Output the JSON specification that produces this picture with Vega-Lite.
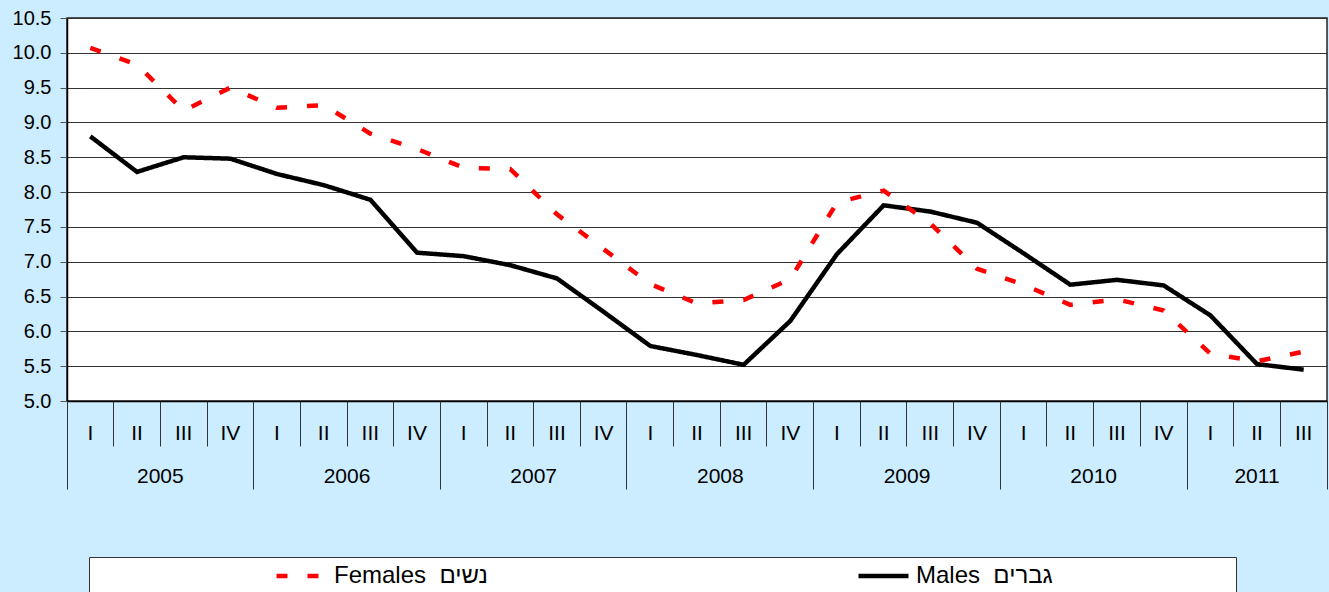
{
  "$schema": "https://vega.github.io/schema/vega-lite/v6.json",
  "width": 1260,
  "height": 383,
  "autosize": {"type": "none"},
  "padding": {"left": 67, "top": 18, "right": 2, "bottom": 191},
  "background": "#CCECFF",
  "config": {
    "view": {"fill": "white", "stroke": "#222", "strokeWidth": 1.5},
    "font": "Liberation Sans",
    "axis": {"labelFont": "Liberation Sans", "labelColor": "#000"}
  },
  "data": {
    "values": [
      {"period": "2005 I", "series": "Males", "value": 8.80},
      {"period": "2005 II", "series": "Males", "value": 8.29},
      {"period": "2005 III", "series": "Males", "value": 8.50},
      {"period": "2005 IV", "series": "Males", "value": 8.48},
      {"period": "2006 I", "series": "Males", "value": 8.26},
      {"period": "2006 II", "series": "Males", "value": 8.10},
      {"period": "2006 III", "series": "Males", "value": 7.89},
      {"period": "2006 IV", "series": "Males", "value": 7.13},
      {"period": "2007 I", "series": "Males", "value": 7.08},
      {"period": "2007 II", "series": "Males", "value": 6.95},
      {"period": "2007 III", "series": "Males", "value": 6.76},
      {"period": "2007 IV", "series": "Males", "value": 6.28},
      {"period": "2008 I", "series": "Males", "value": 5.79},
      {"period": "2008 II", "series": "Males", "value": 5.66},
      {"period": "2008 III", "series": "Males", "value": 5.52},
      {"period": "2008 IV", "series": "Males", "value": 6.15},
      {"period": "2009 I", "series": "Males", "value": 7.11},
      {"period": "2009 II", "series": "Males", "value": 7.81},
      {"period": "2009 III", "series": "Males", "value": 7.72},
      {"period": "2009 IV", "series": "Males", "value": 7.56},
      {"period": "2010 I", "series": "Males", "value": 7.12},
      {"period": "2010 II", "series": "Males", "value": 6.67},
      {"period": "2010 III", "series": "Males", "value": 6.74},
      {"period": "2010 IV", "series": "Males", "value": 6.66},
      {"period": "2011 I", "series": "Males", "value": 6.23},
      {"period": "2011 II", "series": "Males", "value": 5.53},
      {"period": "2011 III", "series": "Males", "value": 5.45},
      {"period": "2005 I", "series": "Females", "value": 10.07},
      {"period": "2005 II", "series": "Females", "value": 9.83},
      {"period": "2005 III", "series": "Females", "value": 9.17},
      {"period": "2005 IV", "series": "Females", "value": 9.50},
      {"period": "2006 I", "series": "Females", "value": 9.21},
      {"period": "2006 II", "series": "Females", "value": 9.25},
      {"period": "2006 III", "series": "Females", "value": 8.84},
      {"period": "2006 IV", "series": "Females", "value": 8.62},
      {"period": "2007 I", "series": "Females", "value": 8.35},
      {"period": "2007 II", "series": "Females", "value": 8.33},
      {"period": "2007 III", "series": "Females", "value": 7.68},
      {"period": "2007 IV", "series": "Females", "value": 7.18},
      {"period": "2008 I", "series": "Females", "value": 6.68},
      {"period": "2008 II", "series": "Females", "value": 6.40},
      {"period": "2008 III", "series": "Females", "value": 6.45},
      {"period": "2008 IV", "series": "Females", "value": 6.75},
      {"period": "2009 I", "series": "Females", "value": 7.85},
      {"period": "2009 II", "series": "Females", "value": 8.02},
      {"period": "2009 III", "series": "Females", "value": 7.55},
      {"period": "2009 IV", "series": "Females", "value": 6.90},
      {"period": "2010 I", "series": "Females", "value": 6.67},
      {"period": "2010 II", "series": "Females", "value": 6.38},
      {"period": "2010 III", "series": "Females", "value": 6.46},
      {"period": "2010 IV", "series": "Females", "value": 6.30},
      {"period": "2011 I", "series": "Females", "value": 5.68},
      {"period": "2011 II", "series": "Females", "value": 5.57},
      {"period": "2011 III", "series": "Females", "value": 5.71}
    ]
  },
  "resolve": {"axis": {"x": "independent"}},
  "layer": [
    {
      "transform": [{"filter": "datum.series == 'Males'"}],
      "mark": {"type": "line", "strokeWidth": 4.5},
      "encoding": {
        "x": {
          "field": "period", "type": "ordinal", "sort": null, "bandPosition": 0.5,
          "scale": {"type": "band", "paddingInner": 0, "paddingOuter": 0},
          "axis": {
            "orient": "bottom", "title": null, "bandPosition": 1, "tickExtra": true,
            "tickSize": 45, "tickColor": "#333", "tickWidth": 1,
            "domain": true, "domainColor": "#000", "domainWidth": 1.5,
            "labelAngle": 0, "labelFontSize": 21, "labelBaseline": "middle",
            "labelPadding": -13, "labelExpr": "split(datum.label, ' ')[1]"
          }
        },
        "y": {
          "field": "value", "type": "quantitative",
          "scale": {"domain": [5, 10.5], "nice": false, "zero": false},
          "axis": {
            "title": null, "values": [5, 5.5, 6, 6.5, 7, 7.5, 8, 8.5, 9, 9.5, 10, 10.5],
            "format": ".1f", "grid": true, "gridColor": "#333", "gridWidth": 1,
            "tickSize": 7, "tickColor": "#555", "domainColor": "#000", "domainWidth": 1.5,
            "labelFontSize": 20, "labelPadding": 9, "labelOverlap": false, "labelFlush": false
          }
        },
        "color": {
          "field": "series", "type": "nominal",
          "scale": {"domain": ["Females", "Males"], "range": ["#FF0000", "#000000"]},
          "legend": {
            "title": null, "orient": "none", "legendX": 22, "legendY": 539,
            "direction": "horizontal", "columns": 2, "columnPadding": 192,
            "fillColor": "white", "strokeColor": "#333", "padding": 9,
            "symbolType": "stroke", "symbolSize": 2500, "symbolStrokeWidth": 4.5,
            "symbolOffset": 176, "labelOffset": 5, "clipHeight": 20,
            "labelFontSize": 24, "labelFont": "Liberation Sans", "labelColor": "#000",
            "labelLimit": 600,
            "labelExpr": "datum.label == 'Females' ? 'Females\u00a0\u00a0נשים' : 'Males\u00a0\u00a0גברים\u00a0\u00a0\u00a0\u00a0\u00a0\u00a0\u00a0\u00a0\u00a0\u00a0\u00a0\u00a0\u00a0\u00a0\u00a0\u00a0\u00a0\u00a0\u00a0\u00a0\u00a0\u00a0\u00a0\u00a0\u00a0\u00a0\u200b'"
          }
        },
        "strokeDash": {
          "field": "series", "type": "nominal",
          "scale": {"domain": ["Females", "Males"], "range": [[11, 20], [1, 0]]},
          "legend": {
            "title": null, "orient": "none", "legendX": 22, "legendY": 539,
            "direction": "horizontal", "columns": 2, "columnPadding": 192,
            "fillColor": "white", "strokeColor": "#333", "padding": 9,
            "symbolType": "stroke", "symbolSize": 2500, "symbolStrokeWidth": 4.5,
            "symbolOffset": 176, "labelOffset": 5, "clipHeight": 20,
            "labelFontSize": 24, "labelFont": "Liberation Sans", "labelColor": "#000",
            "labelLimit": 600,
            "labelExpr": "datum.label == 'Females' ? 'Females\u00a0\u00a0נשים' : 'Males\u00a0\u00a0גברים\u00a0\u00a0\u00a0\u00a0\u00a0\u00a0\u00a0\u00a0\u00a0\u00a0\u00a0\u00a0\u00a0\u00a0\u00a0\u00a0\u00a0\u00a0\u00a0\u00a0\u00a0\u00a0\u00a0\u00a0\u00a0\u00a0\u200b'"
          }
        }
      }
    },
    {
      "transform": [{"filter": "datum.series == 'Females'"}],
      "mark": {"type": "line", "strokeWidth": 4.5},
      "encoding": {
        "x": {
          "field": "period", "type": "ordinal", "sort": null, "bandPosition": 0.5,
          "scale": {"type": "band", "paddingInner": 0, "paddingOuter": 0},
          "axis": {
            "orient": "bottom", "title": null, "bandPosition": 1, "tickExtra": true,
            "values": ["2005 I", "2005 IV", "2006 IV", "2007 IV", "2008 IV", "2009 IV", "2010 IV", "2011 III"],
            "tickSize": 88, "tickColor": "#333", "tickWidth": 1, "domain": false,
            "tickOpacity": {"condition": {"test": "datum.value == '2005 I'", "value": 0}, "value": 1},
            "labelAngle": 0, "labelFontSize": 21, "labelBaseline": "middle", "labelPadding": -13,
            "labelOffset": {"condition": {"test": "datum.value == '2011 III'", "value": -46.67}, "value": -70},
            "labelExpr": "datum.value == '2005 I' ? '' : split(datum.label, ' ')[0]"
          }
        },
        "y": {
          "field": "value", "type": "quantitative",
          "axis": {
            "title": null, "values": [5, 5.5, 6, 6.5, 7, 7.5, 8, 8.5, 9, 9.5, 10, 10.5],
            "format": ".1f", "grid": true, "gridColor": "#333", "gridWidth": 1,
            "tickSize": 7, "tickColor": "#555", "domainColor": "#000", "domainWidth": 1.5,
            "labelFontSize": 20, "labelPadding": 9, "labelOverlap": false, "labelFlush": false
          }
        },
        "color": {"field": "series", "type": "nominal"},
        "strokeDash": {"field": "series", "type": "nominal"}
      }
    }
  ]
}
